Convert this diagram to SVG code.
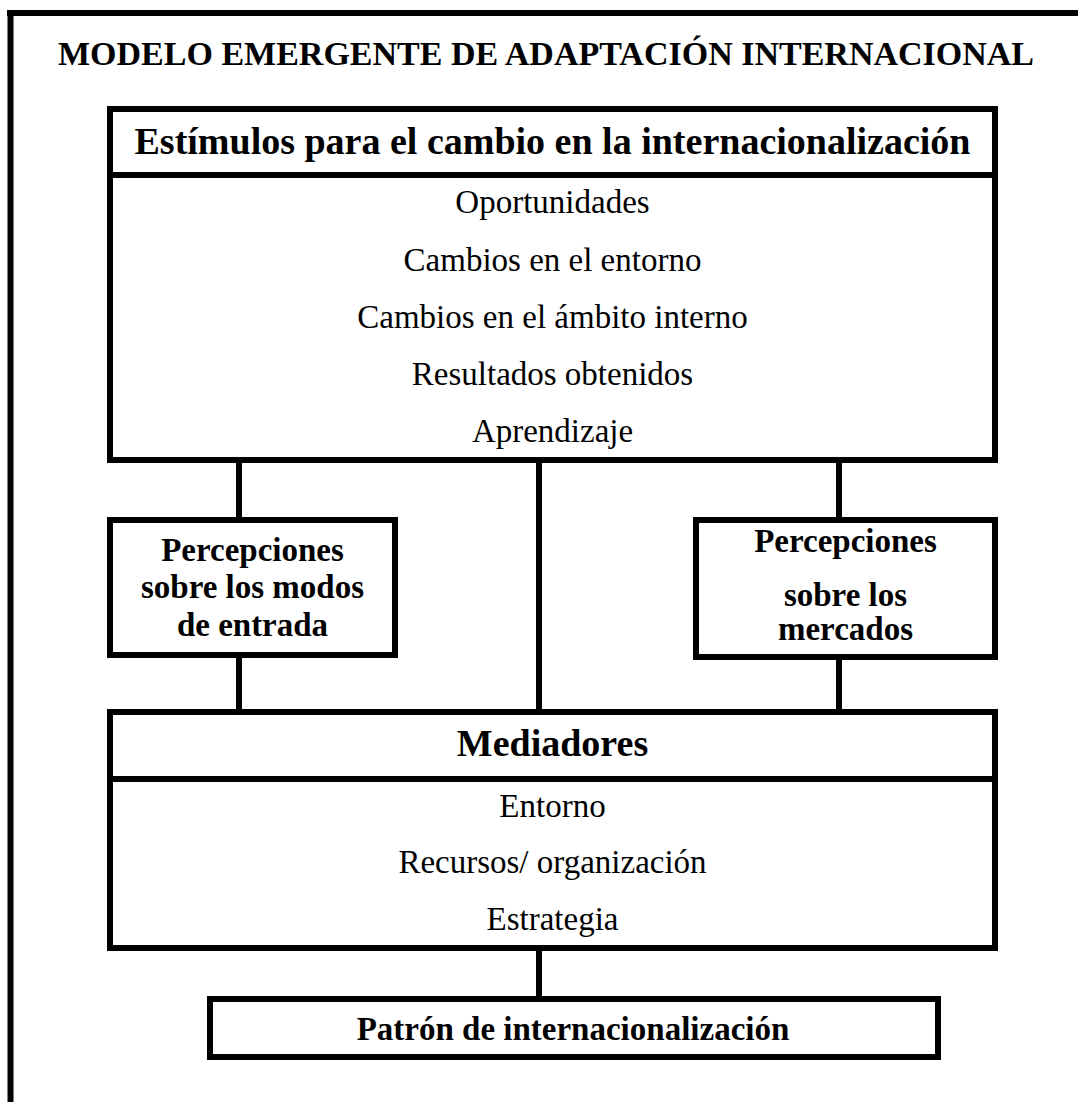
<svg xmlns="http://www.w3.org/2000/svg" width="1078" height="1102" viewBox="0 0 1078 1102">
  <style>
    .box { fill: #ffffff; stroke: #000000; stroke-width: 6; }
    .rule { stroke: #000000; stroke-width: 6; fill: none; }
    .link { stroke: #000000; stroke-width: 6; fill: none; }
    text { font-family: "Liberation Serif", "Times New Roman", serif; fill: #000000; text-anchor: middle; }
    .title { font-size: 34px; font-weight: bold; text-anchor: start; }
    .head { font-size: 38px; font-weight: bold; }
    .item { font-size: 33px; }
    .perc { font-size: 33px; font-weight: bold; }
    .out { font-size: 33px; font-weight: bold; }
  </style>
  <rect width="1078" height="1102" fill="#ffffff"/>

  <!-- page frame: top and left rules only -->
  <g id="frame">
    <line class="rule" x1="10.5" y1="10" x2="10.5" y2="1102" stroke-width="7"/>
    <line class="rule" x1="7" y1="13" x2="1078" y2="13"/>
  </g>

  <text id="title" class="title" x="58" y="65">MODELO EMERGENTE DE ADAPTACIÓN INTERNACIONAL</text>

  <!-- connectors -->
  <g id="connectors">
    <line class="link" x1="239" y1="463" x2="239" y2="517"/>
    <line class="link" x1="239" y1="658" x2="239" y2="709"/>
    <line class="link" x1="539" y1="463" x2="539" y2="709"/>
    <line class="link" x1="839" y1="463" x2="839" y2="517"/>
    <line class="link" x1="839" y1="660" x2="839" y2="709"/>
    <line class="link" x1="539" y1="951" x2="539" y2="996"/>
  </g>

  <g id="estimulos">
    <rect class="box" x="110" y="109" width="885" height="351"/>
    <line class="rule" x1="110" y1="175" x2="995" y2="175"/>
    <text class="head" x="552.5" y="154">Estímulos para el cambio en la internacionalización</text>
    <text class="item" x="552.5" y="213">Oportunidades</text>
    <text class="item" x="552.5" y="271">Cambios en el entorno</text>
    <text class="item" x="552.5" y="328">Cambios en el ámbito interno</text>
    <text class="item" x="552.5" y="385">Resultados obtenidos</text>
    <text class="item" x="552.5" y="442">Aprendizaje</text>
  </g>

  <g id="percepciones-modos">
    <rect class="box" x="110" y="520" width="285" height="135"/>
    <text class="perc" x="252.5" y="561">Percepciones</text>
    <text class="perc" x="252.5" y="598">sobre los modos</text>
    <text class="perc" x="252.5" y="636">de entrada</text>
  </g>

  <g id="percepciones-mercados">
    <rect class="box" x="696" y="520" width="299" height="137"/>
    <text class="perc" x="845.5" y="552">Percepciones</text>
    <text class="perc" x="845.5" y="606">sobre los</text>
    <text class="perc" x="845.5" y="640">mercados</text>
  </g>

  <g id="mediadores">
    <rect class="box" x="110" y="712" width="885" height="236"/>
    <line class="rule" x1="110" y1="779" x2="995" y2="779"/>
    <text class="head" x="552.5" y="756">Mediadores</text>
    <text class="item" x="552.5" y="817">Entorno</text>
    <text class="item" x="552.5" y="873">Recursos/ organización</text>
    <text class="item" x="552.5" y="930">Estrategia</text>
  </g>

  <g id="patron">
    <rect class="box" x="210" y="999" width="728" height="58"/>
    <text class="out" x="573" y="1040">Patrón de internacionalización</text>
  </g>
</svg>
